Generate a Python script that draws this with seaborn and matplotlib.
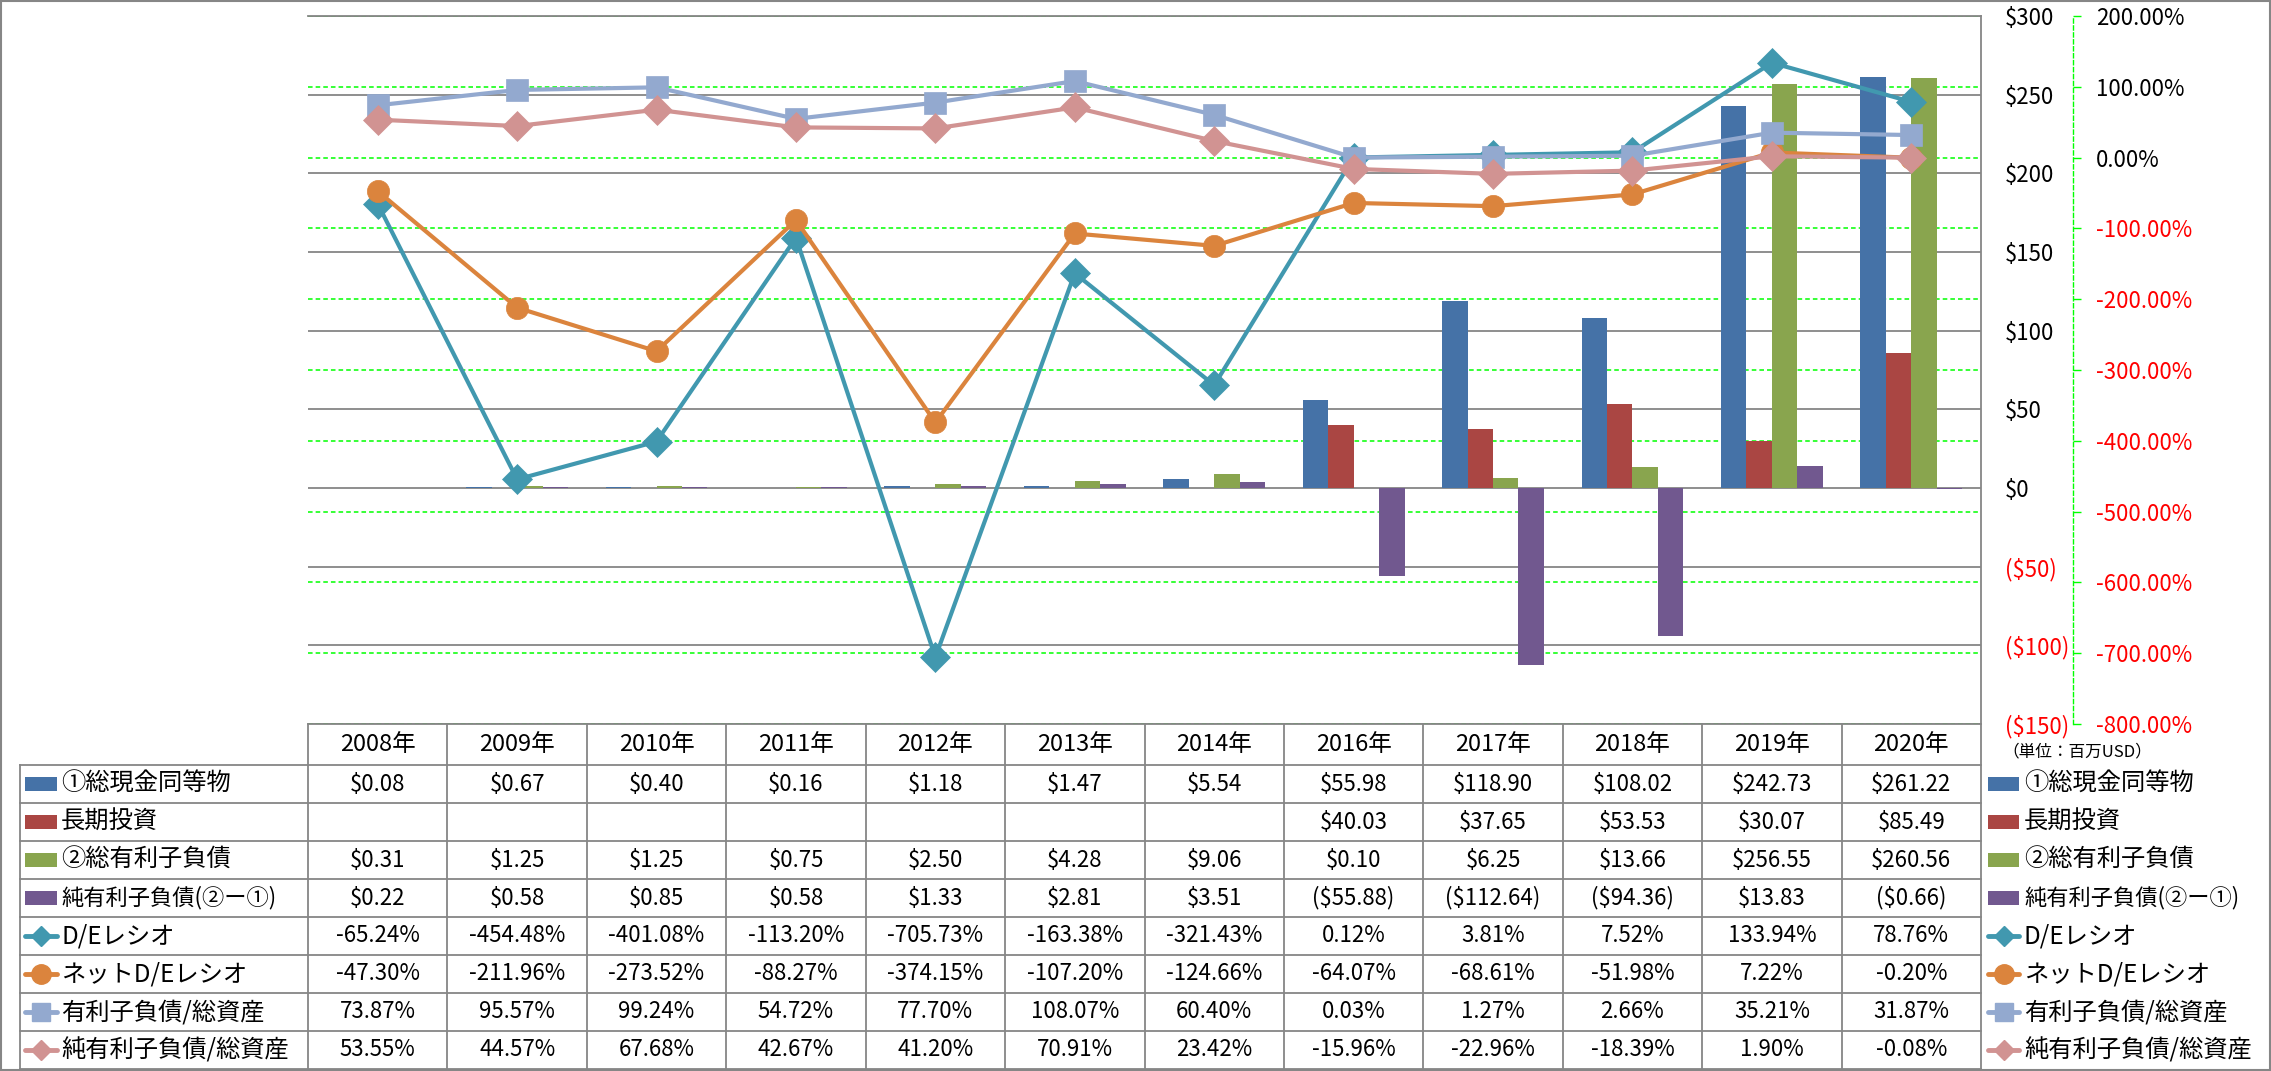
import numpy as np
import pandas as pd
import matplotlib
matplotlib.use('Agg')
from matplotlib import pyplot as plt
from matplotlib import transforms as mtransforms
from matplotlib.lines import Line2D
from matplotlib.patches import Rectangle
import seaborn as sns

# データ (単位: 百万USD / %)
years = ['2008年', '2009年', '2010年', '2011年', '2012年', '2013年', '2014年',
         '2016年', '2017年', '2018年', '2019年', '2020年']
cash = [0.08, 0.67, 0.40, 0.16, 1.18, 1.47, 5.54, 55.98, 118.90, 108.02, 242.73, 261.22]
lt_invest = [np.nan] * 7 + [40.03, 37.65, 53.53, 30.07, 85.49]
debt = [0.31, 1.25, 1.25, 0.75, 2.50, 4.28, 9.06, 0.10, 6.25, 13.66, 256.55, 260.56]
net_debt = [0.22, 0.58, 0.85, 0.58, 1.33, 2.81, 3.51, -55.88, -112.64, -94.36, 13.83, -0.66]
de_ratio = [-65.24, -454.48, -401.08, -113.20, -705.73, -163.38, -321.43, 0.12, 3.81, 7.52, 133.94, 78.76]
net_de_ratio = [-47.30, -211.96, -273.52, -88.27, -374.15, -107.20, -124.66, -64.07, -68.61, -51.98, 7.22, -0.20]
debt_assets = [73.87, 95.57, 99.24, 54.72, 77.70, 108.07, 60.40, 0.03, 1.27, 2.66, 35.21, 31.87]
net_debt_assets = [53.55, 44.57, 67.68, 42.67, 41.20, 70.91, 23.42, -15.96, -22.96, -18.39, 1.90, -0.08]

bar_names = ['①総現金同等物', '長期投資', '②総有利子負債', '純有利子負債(②ー①)']
line_names = ['D/Eレシオ', 'ネットD/Eレシオ', '有利子負債/総資産', '純有利子負債/総資産']
bar_colors = ['#4572A7', '#AA4643', '#89A54E', '#71588F']
line_colors = ['#4198AF', '#DB843D', '#93A9CF', '#D19392']
line_markers = ['D', 'o', 's', 'D']
marker_sizes = [15, 16, 15.5, 15]

plt.rcParams['font.family'] = ['Noto Sans CJK JP', 'DejaVu Sans']

W, H = 2271, 1071
fig = plt.figure(figsize=(W / 100, H / 100), dpi=100)
fig.patch.set_facecolor('white')
px = mtransforms.Affine2D().scale(1 / W, -1 / H).translate(0, 1) + fig.transFigure

left, right, top, bottom = 308, 1981, 16, 724
ax = fig.add_axes([left / W, 1 - bottom / H, (right - left) / W, (bottom - top) / H])

bar_vals = [cash, lt_invest, debt, net_debt]
df = pd.DataFrame({
    'year': years * 4,
    'series': [n for n in bar_names for _ in years],
    'value': [v for vals in bar_vals for v in vals],
}).dropna()

sns.barplot(data=df, x='year', y='value', hue='series', order=years, hue_order=bar_names,
            palette=bar_colors, saturation=1, width=0.73, errorbar=None, legend=False,
            ax=ax, zorder=2)

# 第2軸 (比率)
ax2 = ax.twinx()
line_vals = [de_ratio, net_de_ratio, debt_assets, net_debt_assets]
xs = np.arange(len(years))
for vals, c, m, ms in zip(line_vals, line_colors, line_markers, marker_sizes):
    sns.lineplot(x=xs, y=vals, ax=ax2, color=c, marker=m, markersize=ms,
                 markeredgecolor=c, markeredgewidth=0.5, lw=3, zorder=3)
ax2.set_ylim(-800, 200)
pct_ticks = np.arange(-800, 201, 100)
ax2.set_yticks(pct_ticks)
ax2.set_yticklabels([f'{v:.2f}%' for v in pct_ticks])
ax2.tick_params(axis='y', direction='out', length=6, width=1, color='#00FF00', pad=11, labelsize=16)
for s in ['left', 'top', 'bottom']:
    ax2.spines[s].set_visible(False)
ax2.spines['right'].set_position(('outward', 66))
ax2.spines['right'].set_color('#00FF00')
ax2.spines['right'].set_linestyle((0, (3, 2)))
ax2.spines['right'].set_linewidth(1)

# 主軸 (金額) - twinx の後で右側に
ax.set_ylim(-150, 300)
usd_ticks = np.arange(-150, 301, 50)
ax.set_yticks(usd_ticks)
ax.set_yticklabels([f'${v:.0f}' if v >= 0 else f'(${-v:.0f})' for v in usd_ticks])
ax.yaxis.tick_right()
ax.tick_params(axis='y', length=0, pad=17, labelsize=16)
ax.tick_params(axis='x', length=0, labelbottom=False)
ax.set_xlabel('')
ax.set_ylabel('')
ax.grid(axis='y', color='#868686', lw=1.3)
ax.set_axisbelow(True)
for s in ['left', 'bottom']:
    ax.spines[s].set_visible(False)
for s in ['top', 'right']:
    ax.spines[s].set_color('#868686')
    ax.spines[s].set_linewidth(1.3)
ax.set_xlim(-0.5, len(years) - 0.5)

# 第2軸の目盛線は棒の後ろに描く
lo1, hi1 = ax.get_ylim()
lo2, hi2 = ax2.get_ylim()
for p in pct_ticks:
    ax.axhline(lo1 + (p - lo2) / (hi2 - lo2) * (hi1 - lo1), color='#00FF00',
               ls=(0, (3, 2)), lw=1.1, zorder=1)

# マイナスの目盛ラベルは赤
for a in (ax, ax2):
    for lbl, v in zip(a.get_yticklabels(), a.get_yticks()):
        lbl.set_color('#FF0000' if v < 0 else 'black')

# データテーブル
gray = '#868686'
col_w = (right - left) / len(years)
hdr_bot = 765
row_h = 38
n_rows = 8
tbl_bot = hdr_bot + row_h * n_rows
lab_left = 20

def hline(x0, x1, y):
    fig.add_artist(Line2D([x0, x1], [y, y], transform=px, color=gray, lw=1.3))

def vline(x, y0, y1):
    fig.add_artist(Line2D([x, x], [y0, y1], transform=px, color=gray, lw=1.3))

hline(left, right, bottom)
for i in range(n_rows + 1):
    hline(lab_left, right, hdr_bot + i * row_h)
vline(lab_left, hdr_bot, tbl_bot)
for k in range(len(years) + 1):
    vline(left + k * col_w, bottom, tbl_bot)

for k, yr in enumerate(years):
    fig.text(left + (k + 0.5) * col_w, (bottom + hdr_bot) / 2, yr, transform=px,
             ha='center', va='center', fontsize=17)

def fmt_usd(v):
    if np.isnan(v):
        return ''
    return f'${v:.2f}' if v >= 0 else f'(${-v:.2f})'

rows = [(n, vals, fmt_usd) for n, vals in zip(bar_names, bar_vals)] + \
       [(n, vals, lambda v: f'{v:.2f}%') for n, vals in zip(line_names, line_vals)]

def draw_key(i, x0, x1, yc):
    if i < 4:
        fig.add_artist(Rectangle((x0, yc - 7), x1 - x0, 14, transform=px,
                                 facecolor=bar_colors[i], edgecolor='none'))
    else:
        j = i - 4
        ms = {'D': 10, 'o': 14, 's': 13.5}[line_markers[j]]
        fig.add_artist(Line2D([x0, (x0 + x1) / 2, x1], [yc, yc, yc], transform=px,
                              color=line_colors[j], lw=3.5, solid_capstyle='round',
                              marker=line_markers[j], markevery=[1], markersize=ms,
                              markeredgecolor=line_colors[j]))

for i, (name, vals, f) in enumerate(rows):
    yc = hdr_bot + (i + 0.5) * row_h
    fs = 16 if '②ー①' in name else 17.5
    draw_key(i, 25, 57, yc)
    fig.text(61, yc, name, transform=px, ha='left', va='center', fontsize=fs)
    for k, v in enumerate(vals):
        fig.text(left + (k + 0.5) * col_w, yc, f(v), transform=px,
                 ha='center', va='center', fontsize=16)
    # 右側の凡例
    draw_key(i, 1988, 2019, yc)
    fig.text(2024, yc, name, transform=px, ha='left', va='center', fontsize=fs)

fig.text(2002, 752, '（単位：百万USD）', transform=px, ha='left', va='center', fontsize=12)

fig.add_artist(Rectangle((1, 1), W - 2, H - 2, transform=px, fill=False,
                         edgecolor=gray, lw=1.5))

fig.savefig('out.png', dpi=100, facecolor='white')
